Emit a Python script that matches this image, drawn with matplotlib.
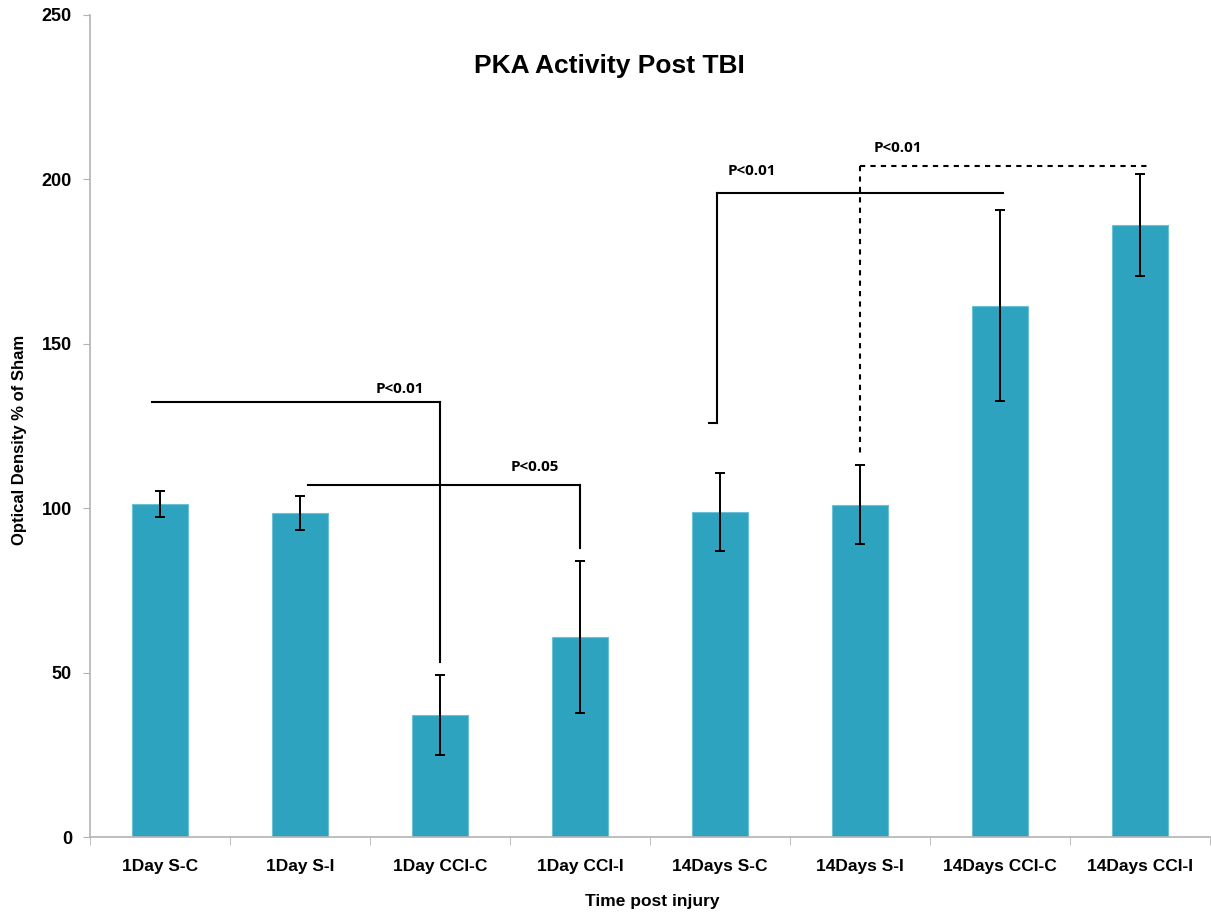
import matplotlib.pyplot as plt
import numpy as np

plt.rcParams['font.family'] = ['Liberation Sans', 'DejaVu Sans']

# group means and SEM (% of sham)
groups = ["1Day S-C", "1Day S-I", "1Day CCI-C", "1Day CCI-I",
          "14Days S-C", "14Days S-I", "14Days CCI-C", "14Days CCI-I"]
means = [101.2, 98.6, 37.2, 60.8, 98.9, 101.0, 161.6, 186.0]
sem = [4.0, 5.2, 12.2, 23.0, 11.8, 12.0, 29.0, 15.5]

# significance brackets: x start, x end, bracket height
bracket_x0 = [-0.06, 1.06, 3.98, 5.0]
bracket_x1 = [2.0, 3.0, 6.02, 7.06]
bracket_h = [132.3, 107.0, 195.8, 204.2]
# where each bracket drops down to, and from which x
drop_x = [2.0, 3.0, 3.98, 5.0]
drop_to = [53.2, 88.0, 125.8, 116.0]
bracket_ls = ["-", "-", "-", (0, (2.5, 2.5))]
p_labels = ["P<0.01", "P<0.05", "P<0.01", "P<0.01"]
label_x = [1.71, 2.68, 4.23, 5.27]
label_y = [136.3, 112.6, 202.6, 209.4]

bar_color = "#2ea3bf"
axis_gray = "#b3b3b3"

fig = plt.figure(figsize=(12.11, 9.13), dpi=100)
ax = fig.add_axes([90 / 1211, 76 / 913, 1120 / 1211, 822 / 913])

x = np.arange(len(groups))
ax.bar(x, means, width=0.4, color=bar_color, edgecolor="#6cc0d6", linewidth=0.8, zorder=2)
ax.errorbar(x, means, yerr=sem, fmt="none", ecolor="black", elinewidth=1.4,
            capsize=3.5, capthick=1.4, zorder=3)

for i in range(len(p_labels)):
    ax.plot([bracket_x0[i], bracket_x1[i]], [bracket_h[i], bracket_h[i]],
            color="black", lw=1.5, ls=bracket_ls[i], zorder=4)
    ax.plot([drop_x[i], drop_x[i]], [bracket_h[i], drop_to[i]],
            color="black", lw=1.5, ls=bracket_ls[i], zorder=4)
    ax.text(label_x[i], label_y[i], p_labels[i], ha="center", va="center",
            fontsize=11, fontweight="bold", family=["Open Sans", "DejaVu Sans"], zorder=5)

# little foot at the bottom of the 14-day bracket
ax.plot([3.92, 3.98], [drop_to[2], drop_to[2]], color="black", lw=1.5, zorder=4)

ax.set_xlim(-0.5, 7.5)
ax.set_ylim(0, 250)
ax.set_yticks(np.arange(0, 251, 50))

ax.set_xticks(x)
ax.set_xticklabels(groups, fontsize=12.5, fontweight="bold")
ax.set_xticks(np.arange(-0.5, 8, 1), minor=True)
ax.tick_params(axis="x", which="major", length=0, pad=16)
ax.tick_params(axis="x", which="minor", length=6, color=axis_gray, direction="out")
ax.tick_params(axis="y", length=5, color=axis_gray, direction="out", pad=8, labelsize=13)
for lab in ax.get_yticklabels():
    lab.set_fontweight("bold")

for side in ["top", "right"]:
    ax.spines[side].set_visible(False)
for side in ["left", "bottom"]:
    ax.spines[side].set_color(axis_gray)
    ax.spines[side].set_linewidth(1.2)

ax.text(3.21, 234.5, "PKA Activity Post TBI", ha="center", va="center",
        fontsize=19, fontweight="bold")
fig.text(20 / 1211, 1 - 440 / 913, "Optical Density % of Sham", rotation=90,
         ha="center", va="center", fontsize=12, fontweight="bold")
fig.text(652 / 1211, 1 - 901 / 913, "Time post injury", ha="center", va="center",
         fontsize=12.5, fontweight="bold")

fig.savefig("out.png", dpi=100)
